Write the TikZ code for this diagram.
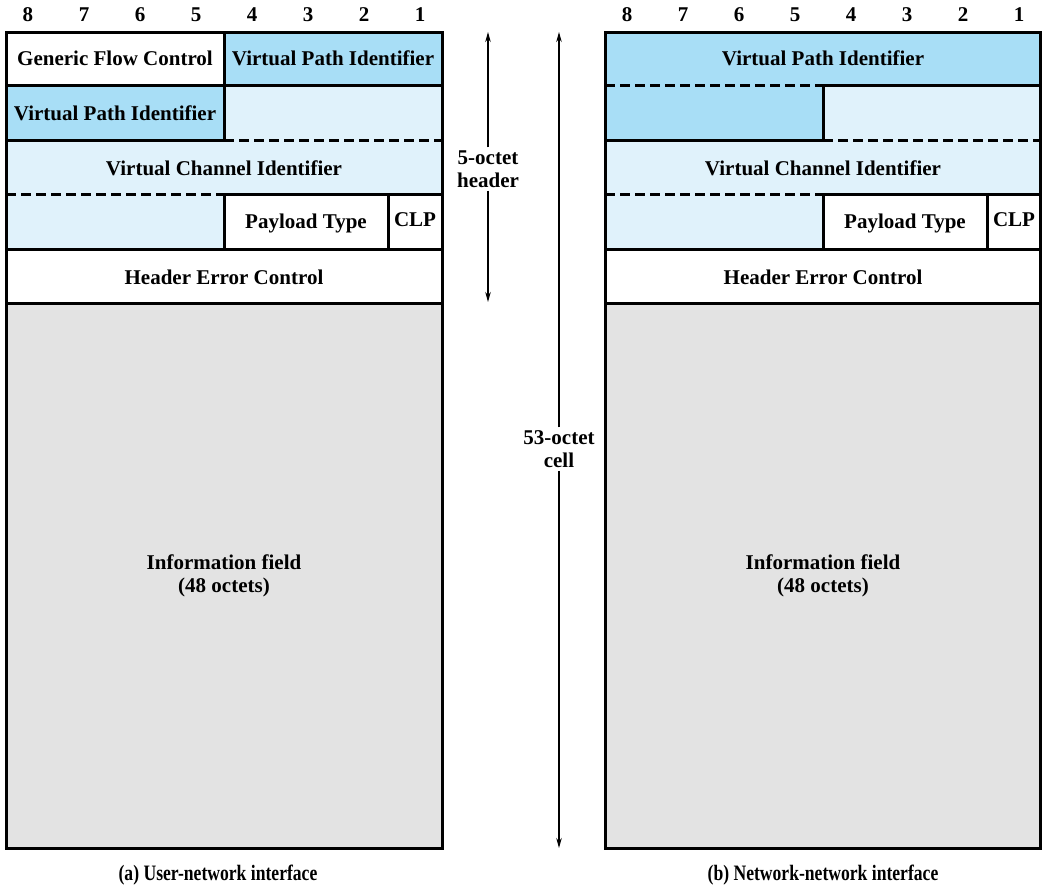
\documentclass[tikz,border=0pt]{standalone}
\usepackage{fontspec}
\setmainfont{Liberation Serif}
\usetikzlibrary{arrows.meta}
\definecolor{vpiblue}{HTML}{A8DEF6}
\definecolor{lightblue}{HTML}{E0F2FB}
\definecolor{infogray}{HTML}{E3E3E3}
\tikzset{
  lbl/.style={font=\fontsize{21}{23}\selectfont\bfseries, inner sep=0pt, align=center},
  captext/.style={font=\fontsize{22}{24}\selectfont\bfseries, inner sep=0pt},
  bitnum/.style={font=\fontsize{21}{23}\selectfont\bfseries, inner sep=0pt},
  border/.style={line width=3pt},
  dash line/.style={line width=3pt, dash pattern=on 10pt off 5pt},
  dimarrow/.style={line width=1.2pt, -{Stealth[length=10pt,width=5.5pt]}}
}
\begin{document}
\begin{tikzpicture}[x=1pt,y=-1pt]
\useasboundingbox (0,0) rectangle (1042,887);

% ---------- (a) left panel fills ----------
\fill[white] (6,32) rectangle (224,85);
\fill[vpiblue] (224,32) rectangle (442,85);
\fill[vpiblue] (6,85) rectangle (224,140);
\fill[lightblue] (224,85) rectangle (442,140);
\fill[lightblue] (6,140) rectangle (442,194);
\fill[lightblue] (6,194) rectangle (224,249);
\fill[white] (224,194) rectangle (442,249);
\fill[white] (6,249) rectangle (442,303);
\fill[infogray] (6,303) rectangle (442,848);

% lines
\draw[border] (6,32) rectangle (442,848);
\draw[border] (6,85) -- (442,85);
\draw[border] (6,140) -- (224,140);
\draw[dash line] (224,140) -- (442,140);
\draw[dash line] (6,194) -- (224,194);
\draw[border] (224,194) -- (442,194);
\draw[border] (6,249) -- (442,249);
\draw[border] (6,303) -- (442,303);
\draw[border] (224,32) -- (224,140);
\draw[border] (224,194) -- (224,249);
\draw[border] (388,194) -- (388,249);

% ---------- (b) right panel fills ----------
\fill[vpiblue] (605,32) rectangle (1040.5,85);
\fill[vpiblue] (605,85) rectangle (823,140);
\fill[lightblue] (823,85) rectangle (1040.5,140);
\fill[lightblue] (605,140) rectangle (1040.5,194);
\fill[lightblue] (605,194) rectangle (823,249);
\fill[white] (823,194) rectangle (1040.5,249);
\fill[white] (605,249) rectangle (1040.5,303);
\fill[infogray] (605,303) rectangle (1040.5,848);

\draw[border] (605,32) rectangle (1040.5,848);
\draw[dash line] (605,85) -- (823,85);
\draw[border] (823,85) -- (1040.5,85);
\draw[border] (605,140) -- (823,140);
\draw[dash line] (823,140) -- (1040.5,140);
\draw[dash line] (605,194) -- (823,194);
\draw[border] (823,194) -- (1040.5,194);
\draw[border] (605,249) -- (1040.5,249);
\draw[border] (605,303) -- (1040.5,303);
\draw[border] (823,85) -- (823,140);
\draw[border] (823,194) -- (823,249);
\draw[border] (987,194) -- (987,249);

% ---------- bit numbers ----------
\foreach \d/\x in {8/28,7/84,6/140,5/196,4/252,3/308,2/364,1/420}
  \node[bitnum] (la\d) at (\x,15) {\d};
\foreach \d/\x in {8/627,7/683,6/739,5/795,4/851,3/907,2/963,1/1019}
  \node[bitnum] (rb\d) at (\x,15) {\d};

% ---------- labels (a) ----------
\node[lbl] (agfc) at (115,58) {Generic Flow Control};
\node[lbl] (avpi1) at (333,58) {Virtual Path Identifier};
\node[lbl] (avpi2) at (115,113) {Virtual Path Identifier};
\node[lbl] (avci) at (224,168) {Virtual Channel Identifier};
\node[lbl] (apt) at (306,223) {Payload Type};
\node[lbl] (aclp) at (415,220) {CLP};
\node[lbl] (ahec) at (224,277) {Header Error Control};
\node[lbl] (ainfo) at (224,576) {Information field\\(48 octets)};

% ---------- labels (b) ----------
\node[lbl] (bvpi) at (823,58) {Virtual Path Identifier};
\node[lbl] (bvci) at (823,168) {Virtual Channel Identifier};
\node[lbl] (bpt) at (905,223) {Payload Type};
\node[lbl] (bclp) at (1014,220) {CLP};
\node[lbl] (bhec) at (823,277) {Header Error Control};
\node[lbl] (binfo) at (823,576) {Information field\\(48 octets)};

% ---------- dimension arrows ----------
\node[lbl] (hdr) at (488,169) {5-octet\\header};
\coordinate (hdrtop) at (488,32);
\coordinate (hdrbot) at (488,302);
\draw[dimarrow] (hdr.north) ++(0,-3) -- (hdrtop);
\draw[dimarrow] (hdr.south) ++(0,3) -- (hdrbot);

\node[lbl] (cell) at (559,449) {53-octet\\cell};
\coordinate (celltop) at (559,32);
\coordinate (cellbot) at (559,848);
\draw[dimarrow] (cell.north) ++(0,-3) -- (celltop);
\draw[dimarrow] (cell.south) ++(0,3) -- (cellbot);

% ---------- captions ----------
\node[captext] (capa) at (218,875) {\scalebox{0.8}[1]{(a) User-network interface}};
\node[captext] (capb) at (823,875) {\scalebox{0.8}[1]{(b) Network-network interface}};
\end{tikzpicture}
\end{document}
